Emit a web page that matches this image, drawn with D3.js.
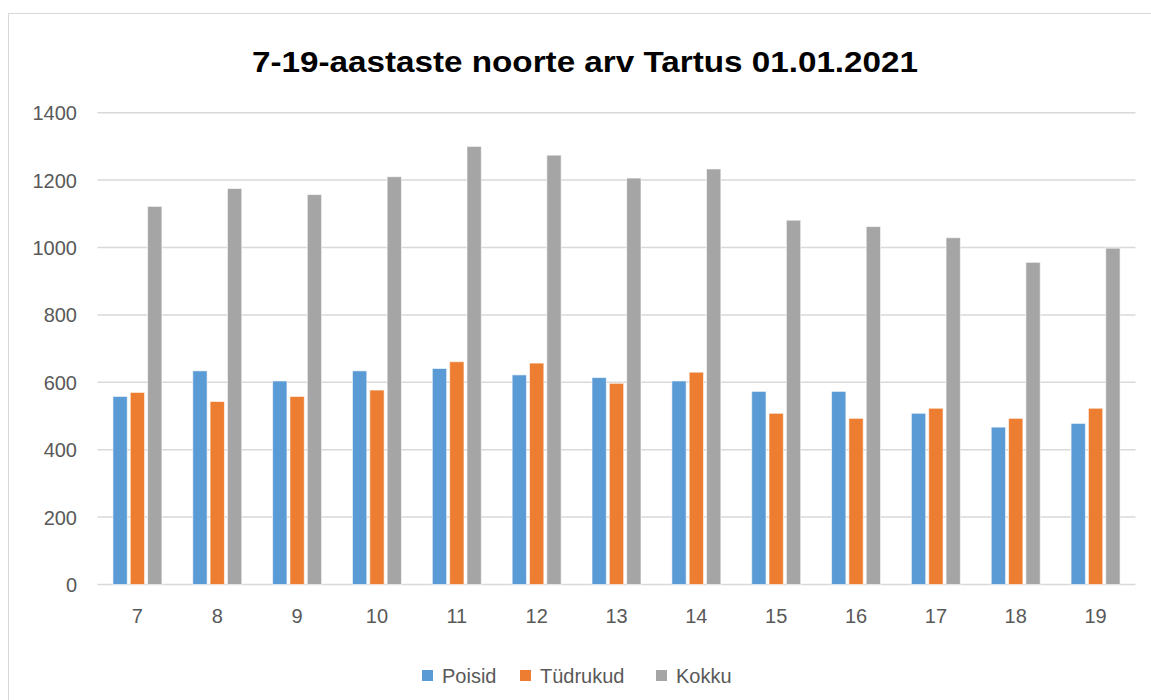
<!DOCTYPE html>
<html><head><meta charset="utf-8">
<script src="https://cdn.jsdelivr.net/npm/d3@7"></script>
<style>body{margin:0;background:#fff;} text{font-family:"Liberation Sans",Arial,sans-serif;}</style>
</head><body>
<svg id="c" width="1151" height="700"></svg>
<script>
const categories = ["7","8","9","10","11","12","13","14","15","16","17","18","19"];
const poisid   = [558,634,604,634,641,622,614,604,573,573,508,467,478];
const tudrukud = [570,543,558,577,661,657,597,630,508,493,523,493,523];
const kokku    = [1122,1175,1157,1210,1300,1274,1206,1233,1081,1062,1029,956,998];
const seriesNames = ["Poisid","Tüdrukud","Kokku"];
const seriesColors = ["#5B9BD5","#ED7D31","#A5A5A5"];
const yTicks = [0,200,400,600,800,1000,1200,1400];
const title = "7-19-aastaste noorte arv Tartus 01.01.2021";

const seriesValues = [poisid, tudrukud, kokku];
const svg = d3.select("#c");
svg.append("rect").attr("x",0).attr("y",0).attr("width",1151).attr("height",700).attr("fill","#fff");
svg.append("rect").attr("x",8.5).attr("y",13.5).attr("width",1160).attr("height",700).attr("fill","none").attr("stroke","#D9D9D9").attr("stroke-width",1);

const x = d3.scaleBand().domain(categories).range([97.5,1135.5]).padding(0);
const xs = d3.scaleBand().domain(seriesNames).range([-26,26]).padding(0);
const y = d3.scaleLinear().domain([0,1400]).range([584.5,112.7]);

// gridlines
svg.append("g").selectAll("line").data(yTicks).join("line")
  .attr("x1",97.5).attr("x2",1135.5)
  .attr("y1",d=>y(d)).attr("y2",d=>y(d))
  .attr("stroke","#D9D9D9").attr("stroke-width",1.5);

// y labels
const yAxis = d3.axisLeft(y).tickValues(yTicks).tickSize(0).tickPadding(0).tickFormat(d3.format("d"));
const yg = svg.append("g").attr("transform","translate(77,0)").call(yAxis);
yg.select(".domain").remove();
yg.selectAll("text").attr("font-size",20).attr("fill","#595959").attr("font-family","Liberation Sans, Arial, sans-serif").attr("dy","0.35em");

// bars
const g = svg.append("g");
seriesNames.forEach((s,si)=>{
  g.append("g").selectAll("rect").data(categories).join("rect")
    .attr("x",(c)=>x(c)+x.bandwidth()/2+xs(s)+1.5)
    .attr("width",xs.bandwidth()-3)
    .attr("y",(c,i)=>y(seriesValues[si][i]))
    .attr("height",(c,i)=>y(0)-y(seriesValues[si][i]))
    .attr("fill",seriesColors[si])
    .attr("stroke","#ffffff").attr("stroke-opacity",0.6).attr("stroke-width",1);
});

// x axis labels
const xAxis = d3.axisBottom(x).tickSize(0).tickPadding(0);
const xg = svg.append("g").attr("transform","translate(0,584.5)").call(xAxis);
xg.select(".domain").remove();
xg.selectAll("text").attr("font-size",20).attr("fill","#595959").attr("font-family","Liberation Sans, Arial, sans-serif").attr("dy","0").attr("y",38);

// title
svg.append("text").attr("x",585).attr("y",72).attr("text-anchor","middle")
  .attr("font-size",29).attr("font-weight","bold").attr("fill","#000")
  .attr("textLength",666).attr("lengthAdjust","spacingAndGlyphs")
  .text(title);

// legend
const legX = [422,520,656];
const leg = svg.append("g");
seriesNames.forEach((s,i)=>{
  leg.append("rect").attr("x",legX[i]).attr("y",670).attr("width",11).attr("height",11).attr("fill",seriesColors[i]);
  leg.append("text").attr("x",legX[i]+20).attr("y",683).attr("font-size",20).attr("fill","#595959").text(s);
});
</script>
</body></html>
